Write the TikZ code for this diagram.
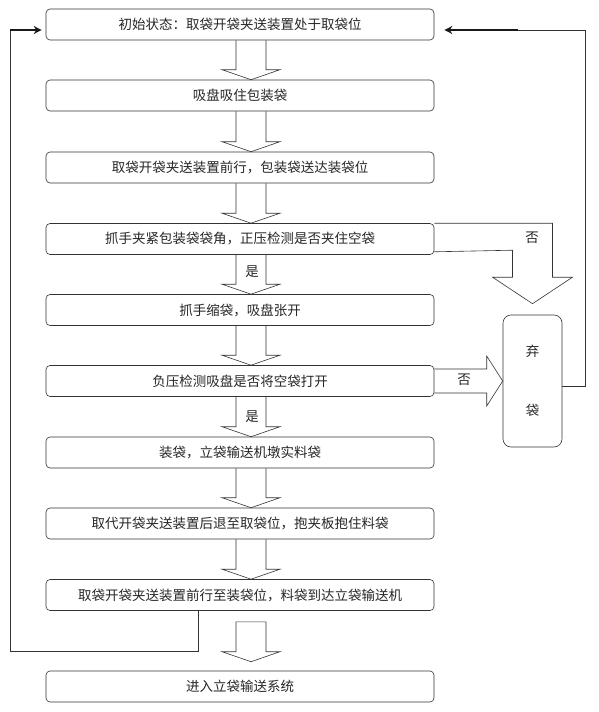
\documentclass[tikz,border=0pt]{standalone}
\usepackage{fontspec}
\newfontfamily\cjk{Noto Sans CJK SC}
\usetikzlibrary{calc,arrows.meta}
\newcommand{\hollowdown}[2]{%
  \draw[hollow] ($(#1.south)+(-4,0)$) -- ($(#2.north)+(-4,-10)$) -- ($(#2.north)+(-18,-10)$) -- ($(#2.north)+(11,0)$)
    -- ($(#2.north)+(40,-10)$) -- ($(#2.north)+(26,-10)$) -- ($(#1.south)+(26,0)$);}
\begin{document}
\begin{tikzpicture}[x=1pt,y=-1pt,
    stepbox/.style={draw=black!80,line width=0.6pt,rounded corners=4pt,minimum width=388pt,minimum height=31pt,
      inner sep=0pt,font=\cjk\fontsize{13.5}{16}\selectfont,text=black!85},
    sidebox/.style={draw=black!80,line width=0.6pt,rounded corners=8pt,minimum width=59pt,minimum height=132pt,
      inner sep=0pt,align=center,font=\cjk\fontsize{13.5}{59}\selectfont,text=black!85},
    lbl/.style={font=\cjk\fontsize{13.5}{16}\selectfont,text=black!85,inner sep=1pt},
    hollow/.style={draw=black!80,line width=0.6pt},
    loopline/.style={draw=black!80,line width=0.6pt},
    retarrow/.style={draw=black!90,line width=1.6pt,-{Stealth[length=8pt,width=8pt]}}]
  \useasboundingbox (0,0) rectangle (598,712);
  \node[stepbox] (b1) at (240,24.5) {初始状态：取袋开袋夹送装置处于取袋位};
  \node[stepbox] (b2) at (240,95.5) {吸盘吸住包装袋};
  \node[stepbox] (b3) at (240,167.5) {取袋开袋夹送装置前行，包装袋送达装袋位};
  \node[stepbox] (b4) at (240,239) {抓手夹紧包装袋袋角，正压检测是否夹住空袋};
  \node[stepbox] (b5) at (240,310) {抓手缩袋，吸盘张开};
  \node[stepbox] (b6) at (240,381) {负压检测吸盘是否将空袋打开};
  \node[stepbox] (b7) at (240,452.5) {装袋，立袋输送机墩实料袋};
  \node[stepbox] (b8) at (240,523.5) {取代开袋夹送装置后退至取袋位，抱夹板抱住料袋};
  \node[stepbox] (b9) at (240,595) {取袋开袋夹送装置前行至装袋位，料袋到达立袋输送机};
  \node[stepbox] (b10) at (240,686.5) {进入立袋输送系统};
  \node[sidebox] (qidai) at (532.5,381) {弃\\袋};
  \hollowdown{b1}{b2}
  \hollowdown{b2}{b3}
  \hollowdown{b3}{b4}
  \hollowdown{b4}{b5}
  \hollowdown{b5}{b6}
  \hollowdown{b6}{b7}
  \hollowdown{b7}{b8}
  \hollowdown{b8}{b9}
  \draw[hollow] ($(b9.south)+(-4,11)$) -- ($(b10.north)+(-4,-19)$) -- ($(b10.north)+(-18,-19)$) -- ($(b10.north)+(11,-9)$)
    -- ($(b10.north)+(40,-19)$) -- ($(b10.north)+(26,-19)$) -- ($(b9.south)+(26,11)$) -- cycle;
  \node[lbl] (yes1) at (252,272) {是};
  \node[lbl] (yes2) at (252,417) {是};
  \coordinate (nA) at (b4.north east -| qidai.north);
  \draw[hollow] (b4.north east) -- ($(nA)+(20,0)$) -- ($(nA)+(20,54)$) -- ($(nA)+(40,54)$) -- ($(qidai.north)+(0,-11)$)
    -- ($(nA)+(-40,54)$) -- ($(nA)+(-20,54)$) -- ($(nA)+(-20,27)$) -- ([yshift=3pt]b4.south east);
  \node[lbl] (no1) at (532,238) {否};
  \draw[hollow] ([yshift=12pt]b6.east) -- ($(qidai.west)+(-16,-12)$) -- ($(qidai.west)+(-16,-25)$) -- (qidai.west)
    -- ($(qidai.west)+(-16,25)$) -- ($(qidai.west)+(-16,12)$) -- ([yshift=-12pt]b6.east);
  \node[lbl] (no2) at (464,380) {否};
  \coordinate (lt) at (10,30);
  \coordinate (rt) at (585,30);
  \coordinate (rm) at (518,30);
  \draw[loopline] ([xshift=-42pt]b9.south) |- (10,651) -- (lt);
  \draw[retarrow,shorten >=4pt] (lt) -- (b1.west |- lt);
  \draw[loopline] ([yshift=-5pt]qidai.east) -| (rt) -- (rm);
  \draw[retarrow,shorten >=10pt] (rm) -- (b1.east |- rt);
\end{tikzpicture}
\end{document}
